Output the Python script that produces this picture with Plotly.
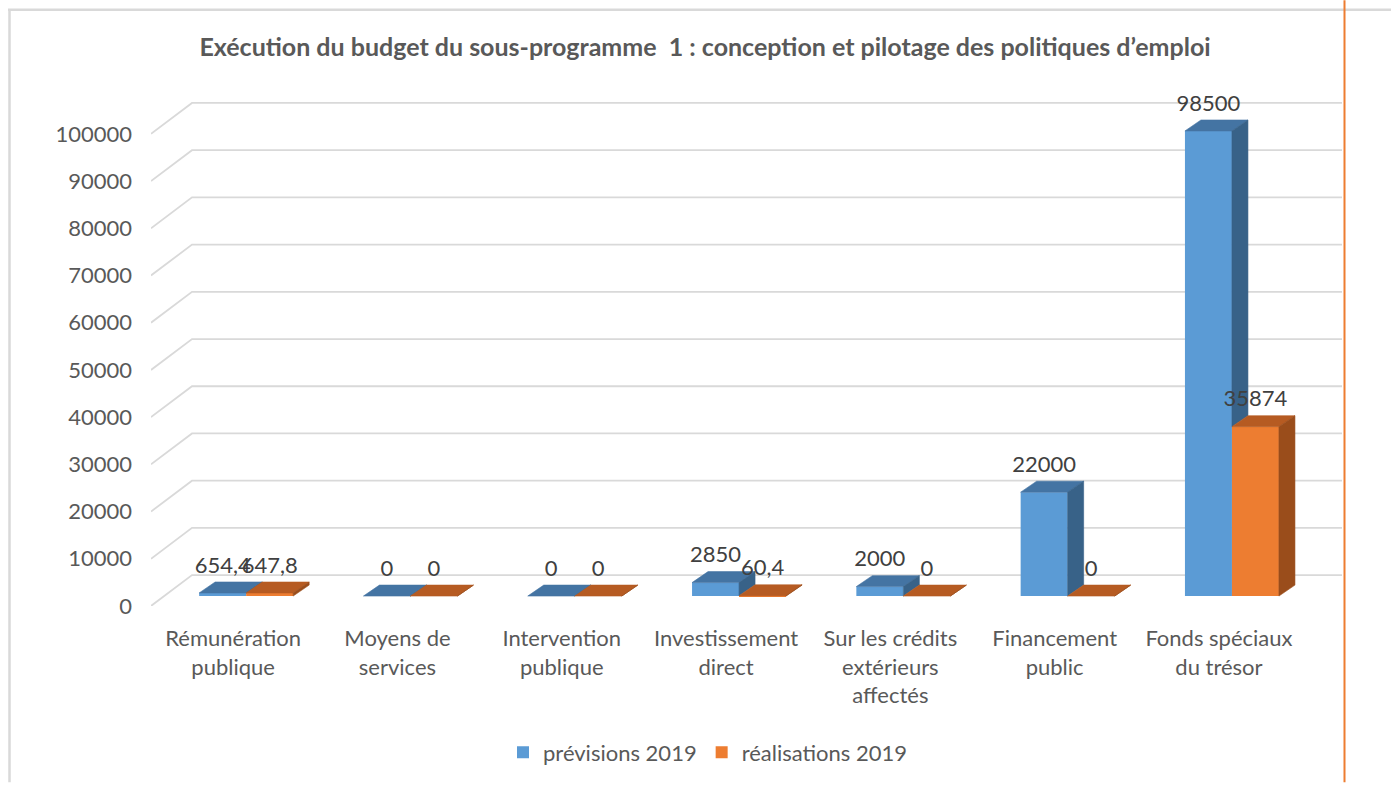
import plotly.graph_objects as go

# ---- data -------------------------------------------------------------
categories = [
    "Rémunération<br>publique",
    "Moyens de<br>services",
    "Intervention<br>publique",
    "Investissement<br>direct",
    "Sur les crédits<br>extérieurs<br>affectés",
    "Financement<br>public",
    "Fonds spéciaux<br>du trésor",
]
previsions_2019 = [654.4, 0, 0, 2850, 2000, 22000, 98500]
realisations_2019 = [647.8, 0, 0, 60.4, 0, 0, 35874]
y_ticks = [0, 10000, 20000, 30000, 40000, 50000, 60000, 70000, 80000, 90000, 100000]
series_names = ["prévisions 2019", "réalisations 2019"]

# ---- styling -----------------------------------------------------------
FONT = "Lato, Carlito, Calibri, sans-serif"
TEXT_GREY = "#595959"
LABEL_GREY = "#404040"
GRID = "#D9D9D9"
FRONT = ["#5B9BD5", "#ED7D31"]
TOP = ["#4474A3", "#B65B22"]
SIDE = ["#386288", "#9A4D1B"]

# ---- geometry (oblique 3-D look) ---------------------------------------
FIG_W, FIG_H = 1391, 785
M_L, M_T = 151, 90
PLOT_W, PLOT_H = 1191, 518
PX_PER_CAT = 164.3       # pixels per category step
PX_PER_VAL = 0.00474     # pixels per value unit


def ux(px):
    return px / PX_PER_CAT


def uy(px):
    return px / PX_PER_VAL


X0 = -0.5
x_range = [X0, X0 + PLOT_W / PX_PER_CAT]
y_range = [0, PLOT_H / PX_PER_VAL]

BAR_W = ux(47)
BAR_SHIFT_X, BAR_BASE = ux(13), uy(10)    # bars sit slightly behind the floor edge
DEPTH_X, DEPTH_Y = ux(16), uy(11)         # column depth
WALL_X, WALL_Y = ux(41), uy(31)           # back wall depth
LABEL_GAP = uy(26)
n = len(categories)


def paper_x(px):
    return (px - M_L) / PLOT_W


def paper_y(py):
    return (M_T + PLOT_H - py) / PLOT_H


fig = go.Figure()

all_series = [previsions_2019, realisations_2019]


def left_edge(i, s):
    return i + BAR_SHIFT_X - BAR_W if s == 0 else i + BAR_SHIFT_X


for s, values in enumerate(all_series):
    # front faces
    fig.add_trace(go.Bar(
        x=[left_edge(i, s) + BAR_W / 2 for i in range(n)],
        y=values, base=BAR_BASE, width=BAR_W,
        marker=dict(color=FRONT[s], line=dict(width=0)),
        name=series_names[s],
        hovertemplate="%{customdata}<extra>" + series_names[s] + "</extra>",
        customdata=[c.replace("<br>", " ") for c in categories],
    ))

    # top faces
    tx, ty = [], []
    for i, v in enumerate(values):
        xl = left_edge(i, s)
        xr = xl + BAR_W
        yt = BAR_BASE + v
        tx += [xl, xr, xr + DEPTH_X, xl + DEPTH_X, xl, None]
        ty += [yt, yt, yt + DEPTH_Y, yt + DEPTH_Y, yt, None]
    fig.add_trace(go.Scatter(x=tx, y=ty, mode="lines", fill="toself", fillcolor=TOP[s],
                             line=dict(color=TOP[s], width=0.6),
                             hoverinfo="skip", showlegend=False))

    # right side faces (the blue one is hidden below the orange column's top)
    sx, sy = [], []
    for i, v in enumerate(values):
        xr = left_edge(i, s) + BAR_W
        y1 = BAR_BASE + v
        if s == 0:
            y0 = BAR_BASE + min(v, all_series[1][i])
        else:
            y0 = BAR_BASE
        sx += [xr, xr, xr + DEPTH_X, xr + DEPTH_X, xr, None]
        sy += [y0, y1, y1 + DEPTH_Y, y0 + DEPTH_Y, y0, None]
    fig.add_trace(go.Scatter(x=sx, y=sy, mode="lines", fill="toself", fillcolor=SIDE[s],
                             line=dict(color=SIDE[s], width=0.6),
                             hoverinfo="skip", showlegend=False))

# value labels
for s, values in enumerate(all_series):
    fig.add_trace(go.Scatter(
        x=[left_edge(i, s) + BAR_W / 2 for i in range(n)],
        y=[BAR_BASE + v + LABEL_GAP for v in values],
        text=[f"{v:g}".replace(".", ",") for v in values],
        mode="text", textposition="middle center",
        textfont=dict(family=FONT, size=22, color=LABEL_GREY),
        hoverinfo="skip", showlegend=False, cliponaxis=False,
    ))

# back wall gridlines (with their diagonal side-wall segment), behind the columns
shapes = []
for v in y_ticks:
    path = (f"M {X0},{v} L {X0 + WALL_X},{v + WALL_Y} "
            f"L {X0 + n + WALL_X},{v + WALL_Y}")
    shapes.append(dict(type="path", xref="x", yref="y", path=path, layer="below",
                       line=dict(color=GRID, width=1.8)))

# chart frame and page rule
shapes += [
    dict(type="line", xref="paper", yref="paper",
         x0=paper_x(9.5), x1=paper_x(9.5), y0=paper_y(9), y1=paper_y(FIG_H),
         line=dict(color=GRID, width=2.5)),
    dict(type="line", xref="paper", yref="paper",
         x0=paper_x(8), x1=paper_x(FIG_W), y0=paper_y(9.5), y1=paper_y(9.5),
         line=dict(color=GRID, width=2.5)),
    dict(type="line", xref="paper", yref="paper",
         x0=paper_x(1344.5), x1=paper_x(1344.5), y0=paper_y(0), y1=paper_y(FIG_H),
         line=dict(color="#ED7D31", width=2)),
]

fig.update_layout(
    width=FIG_W, height=FIG_H,
    margin=dict(l=M_L, t=M_T, r=FIG_W - M_L - PLOT_W, b=FIG_H - M_T - PLOT_H, pad=0),
    paper_bgcolor="white", plot_bgcolor="rgba(0,0,0,0)",
    barmode="overlay",
    title=dict(
        text="Exécution du budget du sous-programme  1 : conception et pilotage des politiques d\u2019emploi",
        x=705 / FIG_W, xanchor="center", y=1 - 47 / FIG_H, yanchor="middle",
        font=dict(family=FONT, size=25, color=TEXT_GREY, weight="bold"),
    ),
    xaxis=dict(range=x_range, tickmode="array", tickvals=list(range(n)), ticktext=categories,
               showgrid=False, zeroline=False, showline=False, ticks="",
               tickfont=dict(family=FONT, size=22, color=TEXT_GREY),
               ticklabelstandoff=17, fixedrange=True),
    yaxis=dict(range=y_range, tickmode="array", tickvals=y_ticks,
               ticktext=[str(v) for v in y_ticks],
               showgrid=False, zeroline=False, showline=False, ticks="",
               tickfont=dict(family=FONT, size=22, color=TEXT_GREY),
               ticklabelstandoff=18, fixedrange=True),
    legend=dict(orientation="h", x=paper_x(708), xanchor="center",
                y=paper_y(755), yanchor="middle",
                font=dict(family=FONT, size=22, color=TEXT_GREY),
                itemclick=False, itemdoubleclick=False),
    shapes=shapes,
    showlegend=True,
)

fig.write_html("out.html", config={"displayModeBar": False})
